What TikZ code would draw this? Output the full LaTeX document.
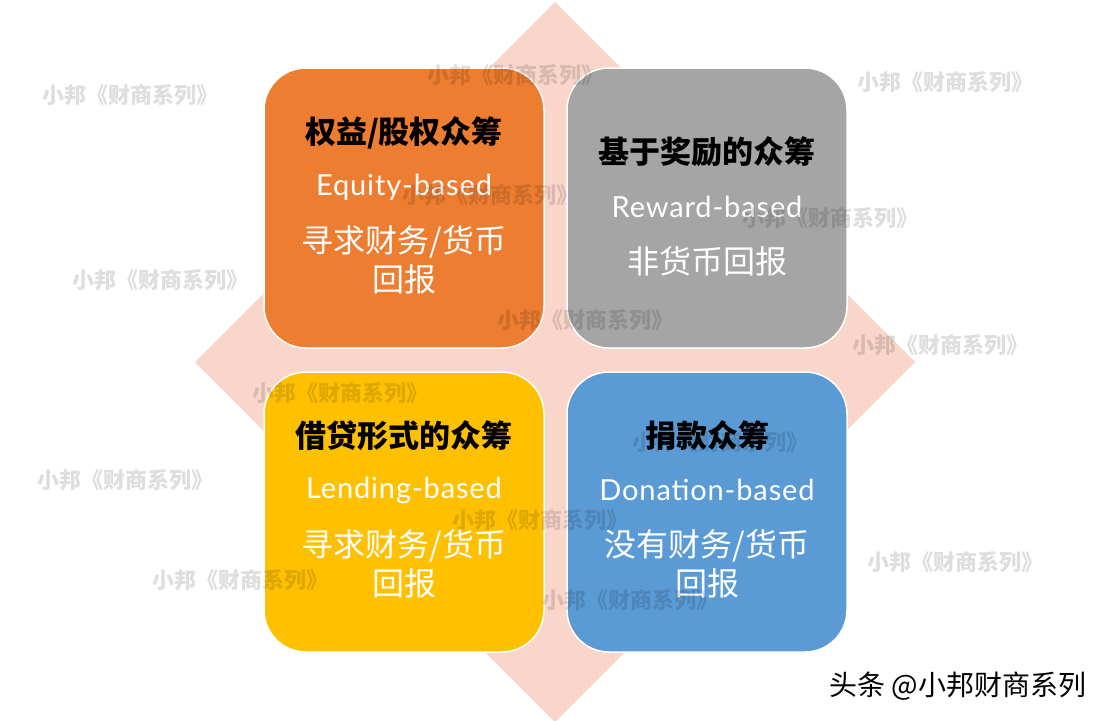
\documentclass[tikz,border=0pt]{standalone}
\usepackage{fontspec}
\setmainfont{Noto Sans CJK SC}
\newfontfamily\engfont[LetterSpace=3]{Lato}
\definecolor{diamondc}{HTML}{F9D5CA}
\definecolor{orangec}{HTML}{ED7D31}
\definecolor{grayc}{HTML}{A5A5A5}
\definecolor{yellowc}{HTML}{FFC000}
\definecolor{bluec}{HTML}{5B9BD5}
\tikzset{
  card/.style={draw=white, line width=1.5pt, rounded corners=42pt},
  ttl/.style={text=black, font=\fontsize{31}{36}\selectfont\bfseries, anchor=center},
  eng/.style={text=white, font=\engfont\fontsize{29}{34}\selectfont, anchor=center},
  body/.style={text=white, font=\fontsize{32}{39}\selectfont, align=center, anchor=center},
  wm/.style={text=black, opacity=0.13, font=\fontsize{22}{22}\selectfont\bfseries, anchor=center},
}
\begin{document}
\begin{tikzpicture}[x=1pt,y=-1pt]
\useasboundingbox (0,0) rectangle (1110,720);
\fill[white] (0,0) rectangle (1110,720);
% diamond
\fill[diamondc] (555,2) -- (915,362) -- (555,722) -- (195,362) -- cycle;
% cards
\fill[orangec,card] (264,68) rectangle (544,348);
\fill[grayc,card] (567,68) rectangle (847,348);
\fill[yellowc,card] (264,372) rectangle (544,652);
\fill[bluec,card] (567,372) rectangle (847,652);
% orange
\node[ttl] (t1) at (404,133) {权益/股权众筹};
\node[eng] (e1) at (404,187) {Equity-based};
\node[body] (b1) at (404,260) {寻求财务/货币\\回报};
% gray
\node[ttl] (t2) at (707,152) {基于奖励的众筹};
\node[eng] (e2) at (707,207) {Reward-based};
\node[body] (b2) at (707,261) {非货币回报};
% yellow
\node[ttl] (t3) at (404,436) {借贷形式的众筹};
\node[eng] (e3) at (404,490) {Lending-based};
\node[body] (b3) at (404,564) {寻求财务/货币\\回报};
% blue
\node[ttl] (t4) at (707,436) {捐款众筹};
\node[eng] (e4) at (707,490) {Donation-based};
\node[body] (b4) at (707,564) {没有财务/货币\\回报};
% watermarks
\foreach \wx/\wy [count=\i] in {130/95, 515/75, 945/82, 490/195, 830/218, 160/280, 585/320, 940/345, 340/393, 125/480, 720/442, 540/520, 240/580, 955/562, 630/600}
  \node[wm] (wm\i) at (\wx,\wy) {小邦《财商系列》};
% footer
\node[text=black, font=\fontsize{28}{28}\selectfont, anchor=center] (foot) at (958,686) {头条 @小邦财商系列};
\end{tikzpicture}
\end{document}
